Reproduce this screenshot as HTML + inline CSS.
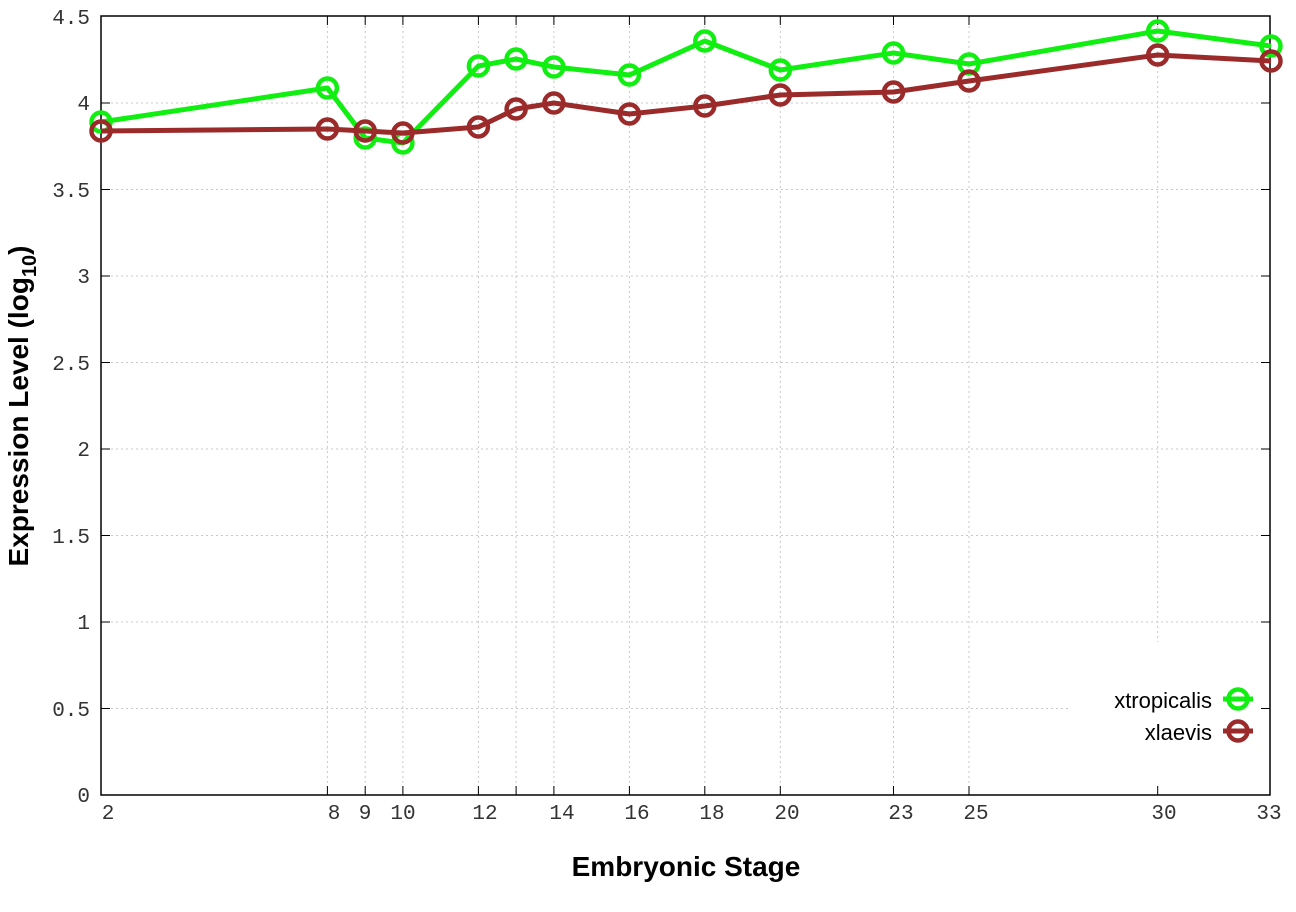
<!DOCTYPE html>
<html><head><meta charset="utf-8"><style>
html,body{margin:0;padding:0;background:#fff;}
svg text{font-family:"Liberation Mono",monospace;font-size:21px;fill:#333;}
</style></head><body>
<svg width="1296" height="907" viewBox="0 0 1296 907" xmlns="http://www.w3.org/2000/svg">
<g stroke="#c8c8c8" stroke-width="1" stroke-dasharray="2,3">
<line x1="101" y1="708.5" x2="1070" y2="708.5"/>
<line x1="101" y1="622" x2="1270" y2="622"/>
<line x1="101" y1="535.5" x2="1270" y2="535.5"/>
<line x1="101" y1="449" x2="1270" y2="449"/>
<line x1="101" y1="362.5" x2="1270" y2="362.5"/>
<line x1="101" y1="276" x2="1270" y2="276"/>
<line x1="101" y1="189.5" x2="1270" y2="189.5"/>
<line x1="101" y1="103" x2="1270" y2="103"/>
<line x1="327.4" y1="16" x2="327.4" y2="795"/>
<line x1="365.2" y1="16" x2="365.2" y2="795"/>
<line x1="402.9" y1="16" x2="402.9" y2="795"/>
<line x1="478.4" y1="16" x2="478.4" y2="795"/>
<line x1="516.1" y1="16" x2="516.1" y2="795"/>
<line x1="553.9" y1="16" x2="553.9" y2="795"/>
<line x1="629.4" y1="16" x2="629.4" y2="795"/>
<line x1="704.8" y1="16" x2="704.8" y2="795"/>
<line x1="780.3" y1="16" x2="780.3" y2="795"/>
<line x1="893.5" y1="16" x2="893.5" y2="795"/>
<line x1="969" y1="16" x2="969" y2="795"/>
<line x1="1157.7" y1="16" x2="1157.7" y2="642"/>
</g>
<rect x="101" y="16" width="1169" height="779" fill="none" stroke="#000" stroke-width="1.5"/>
<g stroke="#000" stroke-width="1">
<line x1="101" y1="708.5" x2="110" y2="708.5"/><line x1="1261" y1="708.5" x2="1270" y2="708.5"/>
<line x1="101" y1="622" x2="110" y2="622"/><line x1="1261" y1="622" x2="1270" y2="622"/>
<line x1="101" y1="535.5" x2="110" y2="535.5"/><line x1="1261" y1="535.5" x2="1270" y2="535.5"/>
<line x1="101" y1="449" x2="110" y2="449"/><line x1="1261" y1="449" x2="1270" y2="449"/>
<line x1="101" y1="362.5" x2="110" y2="362.5"/><line x1="1261" y1="362.5" x2="1270" y2="362.5"/>
<line x1="101" y1="276" x2="110" y2="276"/><line x1="1261" y1="276" x2="1270" y2="276"/>
<line x1="101" y1="189.5" x2="110" y2="189.5"/><line x1="1261" y1="189.5" x2="1270" y2="189.5"/>
<line x1="101" y1="103" x2="110" y2="103"/><line x1="1261" y1="103" x2="1270" y2="103"/>
</g>
<g stroke="#000" stroke-width="1">
<line x1="327.4" y1="795" x2="327.4" y2="786"/><line x1="327.4" y1="16" x2="327.4" y2="25"/>
<line x1="365.2" y1="795" x2="365.2" y2="786"/><line x1="365.2" y1="16" x2="365.2" y2="25"/>
<line x1="402.9" y1="795" x2="402.9" y2="786"/><line x1="402.9" y1="16" x2="402.9" y2="25"/>
<line x1="478.4" y1="795" x2="478.4" y2="786"/><line x1="478.4" y1="16" x2="478.4" y2="25"/>
<line x1="516.1" y1="795" x2="516.1" y2="786"/><line x1="516.1" y1="16" x2="516.1" y2="25"/>
<line x1="553.9" y1="795" x2="553.9" y2="786"/><line x1="553.9" y1="16" x2="553.9" y2="25"/>
<line x1="629.4" y1="795" x2="629.4" y2="786"/><line x1="629.4" y1="16" x2="629.4" y2="25"/>
<line x1="704.8" y1="795" x2="704.8" y2="786"/><line x1="704.8" y1="16" x2="704.8" y2="25"/>
<line x1="780.3" y1="795" x2="780.3" y2="786"/><line x1="780.3" y1="16" x2="780.3" y2="25"/>
<line x1="893.5" y1="795" x2="893.5" y2="786"/><line x1="893.5" y1="16" x2="893.5" y2="25"/>
<line x1="969" y1="795" x2="969" y2="786"/><line x1="969" y1="16" x2="969" y2="25"/>
<line x1="1157.7" y1="795" x2="1157.7" y2="786"/><line x1="1157.7" y1="16" x2="1157.7" y2="25"/>
</g>
<g text-anchor="end">
<text x="90" y="802">0</text>
<text x="90" y="716">0.5</text>
<text x="90" y="629">1</text>
<text x="90" y="543">1.5</text>
<text x="90" y="456">2</text>
<text x="90" y="370">2.5</text>
<text x="90" y="283">3</text>
<text x="90" y="197">3.5</text>
<text x="90" y="110">4</text>
<text x="90" y="24">4.5</text>
</g>
<g text-anchor="middle">
<text x="108" y="819">2</text>
<text x="334" y="819">8</text>
<text x="365" y="819">9</text>
<text x="403" y="819">10</text>
<text x="485" y="819">12</text>
<text x="562" y="819">14</text>
<text x="637" y="819">16</text>
<text x="712" y="819">18</text>
<text x="787" y="819">20</text>
<text x="901" y="819">23</text>
<text x="976" y="819">25</text>
<text x="1164" y="819">30</text>
<text x="1269" y="819">33</text>
</g>
<text x="686" y="876" text-anchor="middle" style="font-family:'Liberation Sans',sans-serif;font-weight:bold;font-size:28px;fill:#000">Embryonic Stage</text>
<text transform="translate(28,406) rotate(-90)" text-anchor="middle" style="font-family:'Liberation Sans',sans-serif;font-weight:bold;font-size:28px;fill:#000">Expression Level (log<tspan font-size="20" dy="8">10</tspan><tspan dy="-8">)</tspan></text>
<g fill="none" stroke="#11ee11" stroke-width="5" stroke-linejoin="round">
<polyline points="101,122 327.4,88 365.2,138 402.9,143 478.4,66 516.1,59 553.9,67 629.4,75 704.8,41 780.3,70 893.5,53 969,64 1157.7,31 1271,46"/>
<g stroke-width="4.5">
<circle cx="101" cy="122" r="9.5"/><circle cx="327.4" cy="88" r="9.5"/><circle cx="365.2" cy="138" r="9.5"/><circle cx="402.9" cy="143" r="9.5"/><circle cx="478.4" cy="66" r="9.5"/><circle cx="516.1" cy="59" r="9.5"/><circle cx="553.9" cy="67" r="9.5"/><circle cx="629.4" cy="75" r="9.5"/><circle cx="704.8" cy="41" r="9.5"/><circle cx="780.3" cy="70" r="9.5"/><circle cx="893.5" cy="53" r="9.5"/><circle cx="969" cy="64" r="9.5"/><circle cx="1157.7" cy="31" r="9.5"/><circle cx="1271" cy="46" r="9.5"/>
</g></g>
<g fill="none" stroke="#9b2a2a" stroke-width="5" stroke-linejoin="round">
<polyline points="101,131 327.4,129 365.2,131 402.9,133 478.4,127 516.1,109 553.9,103 629.4,114 704.8,106 780.3,95 893.5,92 969,81 1157.7,55 1271,61"/>
<g stroke-width="4.5">
<circle cx="101" cy="131" r="9.5"/><circle cx="327.4" cy="129" r="9.5"/><circle cx="365.2" cy="131" r="9.5"/><circle cx="402.9" cy="133" r="9.5"/><circle cx="478.4" cy="127" r="9.5"/><circle cx="516.1" cy="109" r="9.5"/><circle cx="553.9" cy="103" r="9.5"/><circle cx="629.4" cy="114" r="9.5"/><circle cx="704.8" cy="106" r="9.5"/><circle cx="780.3" cy="95" r="9.5"/><circle cx="893.5" cy="92" r="9.5"/><circle cx="969" cy="81" r="9.5"/><circle cx="1157.7" cy="55" r="9.5"/><circle cx="1271" cy="61" r="9.5"/>
</g></g>
<text x="1212" y="708" text-anchor="end" style="font-family:'Liberation Sans',sans-serif;font-size:22px;fill:#000">xtropicalis</text>
<text x="1212" y="740" text-anchor="end" style="font-family:'Liberation Sans',sans-serif;font-size:22px;fill:#000">xlaevis</text>
<g fill="none" stroke-width="5">
<line x1="1223" y1="699" x2="1253" y2="699" stroke="#11ee11"/>
<circle cx="1238" cy="699" r="9.5" stroke="#11ee11" stroke-width="4.5"/>
<line x1="1223" y1="731" x2="1253" y2="731" stroke="#9b2a2a"/>
<circle cx="1238" cy="731" r="9.5" stroke="#9b2a2a" stroke-width="4.5"/>
</g>
</svg>
</body></html>
